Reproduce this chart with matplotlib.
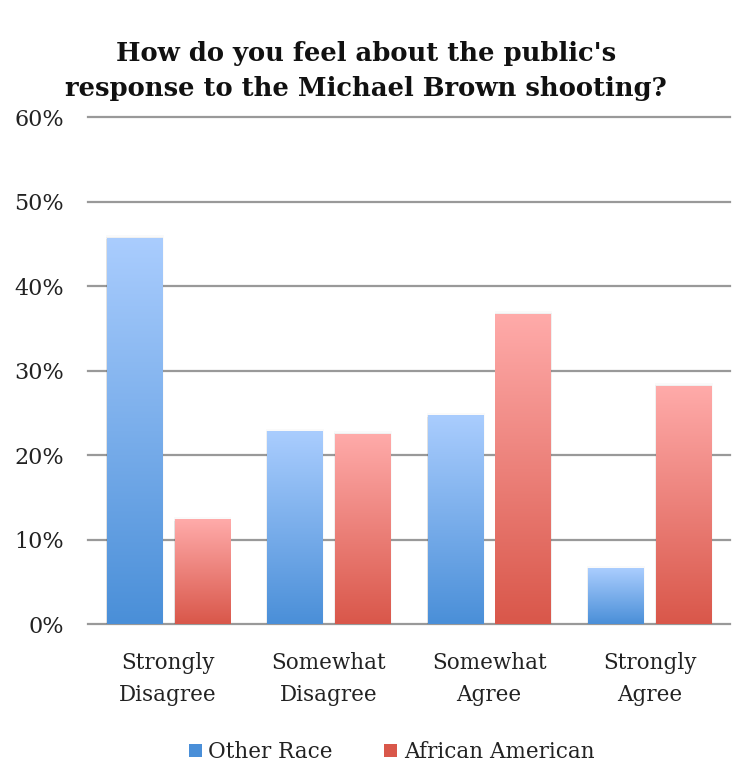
import numpy as np
import matplotlib; matplotlib.use("Agg")
import matplotlib.pyplot as plt
from matplotlib.colors import LinearSegmentedColormap
from matplotlib.patches import Rectangle

categories = ['Strongly\nDisagree', 'Somewhat\nDisagree', 'Somewhat\nAgree', 'Strongly\nAgree']
other_race = [0.457, 0.228, 0.247, 0.066]
african_american = [0.124, 0.225, 0.367, 0.282]
series = [('Other Race', other_race, '#aacdfe', '#4a8fd8'),
          ('African American', african_american, '#ffabaa', '#d9574a')]
yticks = [0, 0.1, 0.2, 0.3, 0.4, 0.5, 0.6]

SERIF = ['DejaVu Serif']
fig = plt.figure(figsize=(7.32, 7.65), dpi=100)
ax = fig.add_axes([0.12, 0.1843, 0.877, 0.6627])

w = 0.343; gap = 0.08
grad = np.linspace(0, 1, 256).reshape(-1, 1)
for j, (lab, vals, top, bot) in enumerate(series):
    cmap = LinearSegmentedColormap.from_list(lab, [bot, top])
    off = (j - 0.5) * (w + gap)
    for i, v in enumerate(vals):
        x0 = i + off - w / 2
        # soft shadow
        for k, a in enumerate([0.06, 0.04, 0.02]):
            d = 0.004 * (k + 1)
            ax.add_patch(Rectangle((x0 - d * 0.5, -0.004), w + d * 1.5, v + d * 0.6,
                                   facecolor='black', alpha=a, lw=0, zorder=2))
        r = Rectangle((x0, 0), w, v, facecolor='none', lw=0, zorder=3)
        ax.add_patch(r)
        im = ax.imshow(grad, cmap=cmap, origin='lower', aspect='auto',
                       extent=(x0, x0 + w, 0, v), zorder=3)
        im.set_clip_path(r)

ax.set_xlim(-0.5, len(categories) - 0.5)
ax.set_ylim(0, 0.6)
for t in yticks:
    ax.axhline(t, color='#999999', lw=1.6, zorder=1, clip_on=False)
ax.set_yticks(yticks)
ax.set_yticklabels([f'{int(round(t * 100))}%' for t in yticks],
                   fontsize=16, family=SERIF, color='#222')
ax.set_xticks(range(len(categories)))
ax.set_xticklabels(categories, fontsize=15.5, family=SERIF, color='#222', linespacing=1.6)
ax.tick_params(axis='y', length=0, pad=17)
ax.tick_params(axis='x', length=0, pad=20)
for s in ax.spines.values(): s.set_visible(False)

fig.text(0.5, 0.947, "How do you feel about the public's\nresponse to the Michael Brown shooting?",
         ha='center', va='top', fontsize=18.6, fontweight='bold', family=SERIF,
         linespacing=1.5, color='#111')

# legend with gradient squares
handles = [Rectangle((0, 0), 1, 1, facecolor=s[3], edgecolor='none') for s in series]
leg = fig.legend(handles, [s[0] for s in series], loc='center', bbox_to_anchor=(0.535, 0.017),
                 ncol=2, frameon=False, prop={'family': SERIF, 'size': 15.5},
                 handlelength=0.6, handleheight=0.6, handletextpad=0.3, columnspacing=2.4)
for t in leg.get_texts(): t.set_color('#222')
fig.savefig('out.png', dpi=100)
